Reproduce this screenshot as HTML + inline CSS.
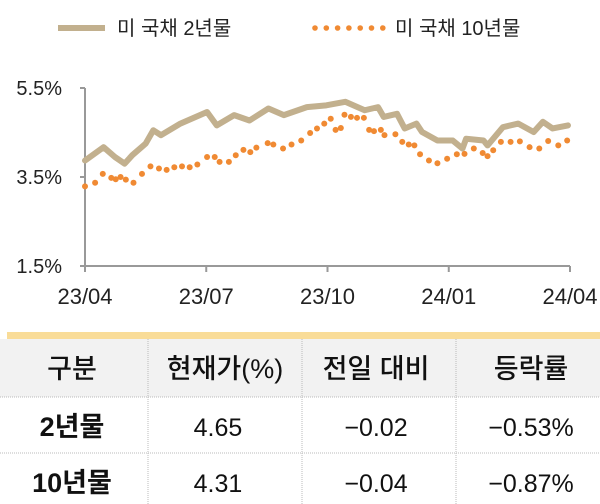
<!DOCTYPE html>
<html><head><meta charset="utf-8"><style>
body{margin:0;width:600px;height:504px;background:#fff;overflow:hidden;font-family:"Liberation Sans","Noto Sans CJK KR",sans-serif}
svg{position:absolute;left:0;top:0}
</style></head><body>
<svg width="600" height="504" xmlns="http://www.w3.org/2000/svg">
<g id="legend">
<line x1="58" y1="28" x2="105" y2="28" stroke="#c2b08e" stroke-width="6"/>
<text x="117" y="35" font-size="20" fill="#222">미 국채 2년물</text>
<g id="legdots"></g>
<text x="395" y="35" font-size="20" fill="#222">미 국채 10년물</text>
</g>
<g id="axes"></g>
<g id="series"></g>
<g>
<rect x="7" y="332" width="593" height="7" fill="#f9dc98"/>
<rect x="0" y="339" width="600" height="58" fill="#f2f2f2"/>
<g stroke="#bbb" stroke-width="1" stroke-dasharray="1,1">
<line x1="0" y1="397" x2="600" y2="397"/><line x1="0" y1="453" x2="600" y2="453"/>
<line x1="148" y1="339" x2="148" y2="504"/><line x1="302" y1="339" x2="302" y2="504"/><line x1="456" y1="339" x2="456" y2="504"/>
</g>
<g font-size="27" fill="#111" text-anchor="middle" font-weight="500">
<text x="72" y="378">구분</text>
<text x="225" y="378">현재가(%)</text>
<text x="376" y="378">전일 대비</text>
<text x="531" y="378">등락률</text>
</g>
<g font-size="27" fill="#111" text-anchor="middle" font-weight="bold">
<text x="72" y="436">2년물</text>
<text x="72" y="492">10년물</text>
</g>
<g font-size="25" fill="#111" text-anchor="middle">
<text x="218" y="436">4.65</text>
<text x="376" y="436">−0.02</text>
<text x="531" y="436">−0.53%</text>
<text x="218" y="492">4.31</text>
<text x="376" y="492">−0.04</text>
<text x="531" y="492">−0.87%</text>
</g>
</g>
</svg>
<script>
const yTicks=[5.5,3.5,1.5];
const yTickLabels=["5.5%","3.5%","1.5%"];
const xTicks=[0,3,6,9,12];
const xTickLabels=["23/04","23/07","23/10","24/01","24/04"];
const m2=[0,0.46,0.74,0.98,1.17,1.5,1.69,1.88,2.36,3.02,3.26,3.69,4.07,4.54,4.92,5.49,5.97,6.44,6.92,7.25,7.39,7.72,7.91,8.2,8.34,8.72,9.1,9.34,9.43,9.86,9.96,10.34,10.72,11.1,11.33,11.57,11.95];
const v2=[3.87,4.17,3.95,3.8,3.99,4.25,4.55,4.44,4.7,4.96,4.66,4.89,4.77,5.04,4.89,5.07,5.11,5.19,5.0,5.07,4.85,4.92,4.59,4.7,4.51,4.32,4.32,4.14,4.36,4.32,4.21,4.62,4.7,4.51,4.74,4.59,4.66];
const m10=[0,0.25,0.44,0.65,0.76,0.88,1.01,1.2,1.41,1.62,1.83,2.02,2.21,2.4,2.59,2.78,3.02,3.21,3.33,3.56,3.73,3.92,4.09,4.24,4.52,4.66,4.9,5.11,5.35,5.57,5.74,5.92,6.08,6.2,6.33,6.42,6.58,6.73,6.9,7.03,7.15,7.32,7.41,7.68,7.85,8.01,8.15,8.29,8.51,8.72,8.96,9.2,9.39,9.62,9.84,9.96,10.1,10.29,10.53,10.76,11.0,11.24,11.46,11.71,11.93];
const v10=[3.29,3.37,3.57,3.48,3.45,3.5,3.44,3.37,3.57,3.74,3.69,3.66,3.72,3.74,3.72,3.78,3.95,3.95,3.84,3.84,3.99,4.11,4.06,4.16,4.26,4.23,4.14,4.23,4.32,4.49,4.59,4.7,4.81,4.56,4.6,4.9,4.85,4.83,4.83,4.56,4.53,4.56,4.44,4.46,4.29,4.23,4.21,4.01,3.87,3.81,3.91,4.01,4.02,4.14,4.04,3.97,4.1,4.29,4.29,4.3,4.17,4.14,4.31,4.21,4.32];
const NS="http://www.w3.org/2000/svg";
const X0=85,X1=570,Y0=266,Y1=88;
function xs(m){return X0+(m/12)*(X1-X0);}
function ys(v){return Y0-(v-1.5)/4*(Y0-Y1);}
function mk(t,a,p){const e=document.createElementNS(NS,t);for(const k in a)e.setAttribute(k,a[k]);p.appendChild(e);return e;}
const ax=document.getElementById('axes'),se=document.getElementById('series');
let l=mk('line',{x1:X0,y1:Y1,x2:X0,y2:Y0,stroke:'#999','stroke-width':2},ax);


l=mk('line',{x1:X0,y1:Y0,x2:X1,y2:Y0,stroke:'#999','stroke-width':2},ax);


yTicks.forEach((v,i)=>{
 mk('line',{x1:X0-5,y1:ys(v),x2:X0,y2:ys(v),stroke:'#999','stroke-width':2},ax);
 const t=mk('text',{x:62,y:ys(v)+7,'font-size':20,'text-anchor':'end',fill:'#222'},ax);
 t.textContent=yTickLabels[i];
 
 
});
xTicks.forEach((m,i)=>{
 mk('line',{x1:xs(m),y1:Y0,x2:xs(m),y2:Y0+6,stroke:'#999','stroke-width':2},ax);
 const t=mk('text',{x:xs(m),y:304,'font-size':22,'text-anchor':'middle',fill:'#222'},ax);
 t.textContent=xTickLabels[i];
 
 
});
const p=mk('polyline',{points:m2.map((m,i)=>xs(m)+','+ys(v2[i])).join(' '),fill:'none',stroke:'#c2b08e','stroke-width':6,'stroke-linejoin':'round','stroke-linecap':'round'},se);


m10.forEach((m,i)=>{
 const c=mk('circle',{cx:xs(m),cy:ys(v10[i]),r:3,fill:'#f08a33'},se);
 
 
});
const ld=document.getElementById('legdots');
for(let x=315;x<=383;x+=11.3){mk('circle',{cx:x,cy:28,r:2.8,fill:'#f08a33'},ld);}
</script>
</body></html>
